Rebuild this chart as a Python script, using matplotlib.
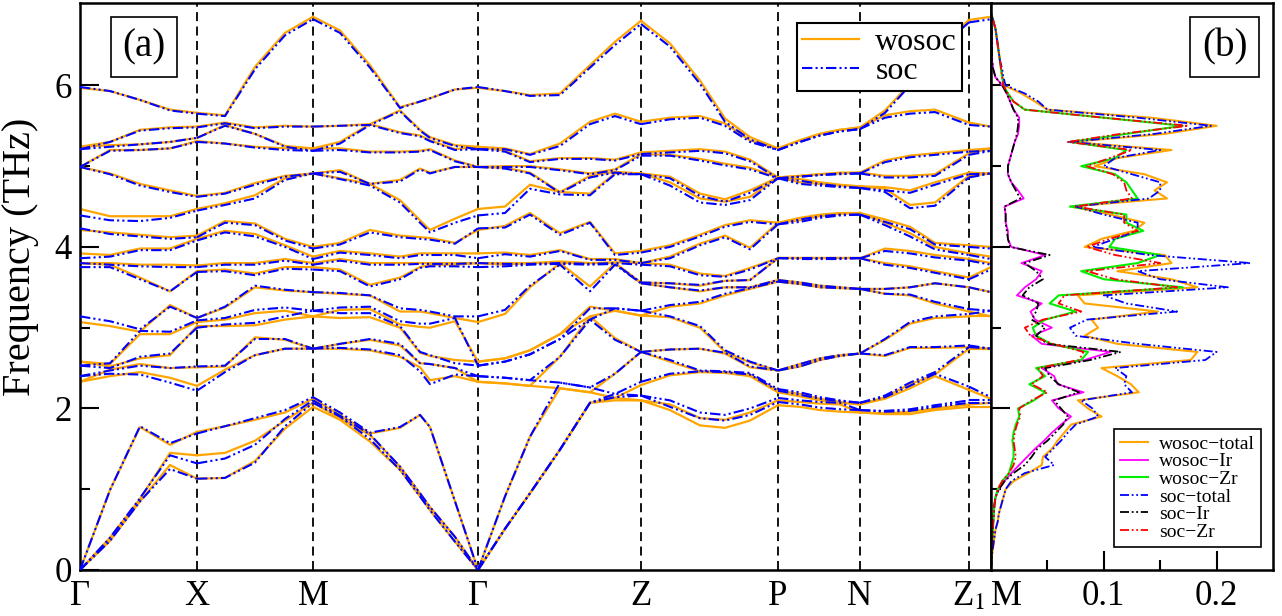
import numpy as np
import matplotlib
matplotlib.use('Agg')
import matplotlib.pyplot as plt

plt.rcParams['font.family'] = ['Liberation Serif', 'DejaVu Serif']
plt.rcParams['mathtext.fontset'] = 'stix'

# ---------------- band structure data (THz) ----------------
k_sym = [0, 117, 233, 398, 561, 698, 780, 889, 911]
k_lab = ['Γ', 'X', 'M', 'Γ', 'Z', 'P', 'N', 'Z$_1$', 'M']

k_GX = [0, 30, 60, 90, 117]
k_XM = [117, 145, 175, 205, 233]
k_MG = [233, 260, 290, 320, 340, 350, 375, 398]
k_GZ = [398, 425, 450, 480, 510, 535, 561]
k_ZP = [561, 590, 620, 645, 670, 698]
k_PN = [698, 720, 740, 760, 780]
k_NZ1 = [780, 805, 830, 855, 889]
k_Z1M = [889, 911]

# without SOC, one row per k-point (frequencies of all branches)
wosoc_GX = [
    [0, 0, 0, 2.33, 2.33, 2.58, 2.58, 3.07, 3.80, 3.80, 3.92, 4.21, 4.47, 4.99, 4.99, 5.24, 5.24, 5.97],
    [0.36, 0.40, 0.99, 2.40, 2.48, 2.52, 2.55, 3.02, 3.78, 3.80, 3.90, 4.18, 4.38, 4.91, 5.20, 5.26, 5.30, 5.93],
    [0.85, 0.88, 1.77, 2.45, 2.55, 2.62, 2.92, 2.95, 3.62, 3.78, 3.98, 4.15, 4.38, 4.78, 5.20, 5.27, 5.45, 5.82],
    [1.30, 1.45, 1.55, 2.38, 2.50, 2.66, 2.92, 3.28, 3.45, 3.78, 3.98, 4.12, 4.38, 4.70, 5.22, 5.30, 5.48, 5.70],
    [1.13, 1.42, 1.71, 2.28, 2.51, 3.02, 3.07, 3.12, 3.70, 3.77, 4.10, 4.14, 4.47, 4.63, 5.31, 5.35, 5.49, 5.66],
]
wosoc_XM = [
    [1.13, 1.42, 1.71, 2.28, 2.51, 3.02, 3.07, 3.12, 3.70, 3.77, 4.10, 4.14, 4.47, 4.63, 5.31, 5.35, 5.49, 5.66],
    [1.14, 1.45, 1.78, 2.48, 2.52, 3.02, 3.10, 3.25, 3.72, 3.80, 4.20, 4.32, 4.54, 4.67, 5.28, 5.51, 5.54, 5.63],
    [1.35, 1.60, 1.86, 2.66, 2.88, 3.03, 3.18, 3.50, 3.67, 3.80, 4.16, 4.29, 4.64, 4.79, 5.24, 5.40, 5.48, 6.23],
    [1.75, 1.85, 1.95, 2.74, 2.85, 3.10, 3.21, 3.46, 3.75, 3.85, 4.02, 4.10, 4.85, 4.88, 5.22, 5.25, 5.50, 6.65],
    [2.02, 2.07, 2.12, 2.74, 2.74, 3.14, 3.14, 3.44, 3.75, 3.80, 3.88, 4.00, 4.91, 4.91, 5.22, 5.22, 5.49, 6.85],
]
wosoc_MG = [
    [2.02, 2.07, 2.12, 2.74, 2.74, 3.14, 3.14, 3.44, 3.75, 3.80, 3.88, 4.00, 4.91, 4.91, 5.22, 5.22, 5.49, 6.85],
    [1.86, 1.88, 1.92, 2.74, 2.80, 3.12, 3.22, 3.42, 3.72, 3.85, 3.95, 4.05, 4.85, 4.95, 5.22, 5.30, 5.50, 6.68],
    [1.59, 1.67, 1.69, 2.72, 2.85, 3.13, 3.23, 3.40, 3.53, 3.80, 3.92, 4.21, 4.78, 4.78, 5.18, 5.52, 5.52, 6.25],
    [1.24, 1.28, 1.76, 2.64, 2.78, 3.00, 3.04, 3.20, 3.62, 3.80, 3.88, 4.14, 4.58, 4.83, 5.18, 5.42, 5.69, 5.73],
    [0.91, 0.95, 1.92, 2.51, 2.56, 2.69, 3.01, 3.20, 3.75, 3.80, 3.92, 4.12, 4.33, 4.97, 5.19, 5.38, 5.45, 5.80],
    [0.74, 0.78, 1.77, 2.35, 2.55, 2.65, 3.00, 3.18, 3.78, 3.80, 3.92, 4.11, 4.21, 4.92, 5.21, 5.32, 5.36, 5.84],
    [0.35, 0.41, 0.85, 2.40, 2.50, 2.60, 3.08, 3.12, 3.78, 3.80, 3.92, 4.05, 4.35, 4.99, 5.07, 5.21, 5.26, 5.95],
    [0, 0, 0, 2.33, 2.33, 2.58, 2.58, 3.07, 3.80, 3.80, 3.92, 4.21, 4.47, 4.99, 4.99, 5.24, 5.24, 5.97],
]
wosoc_GZ = [
    [0, 0, 0, 2.33, 2.33, 2.58, 2.58, 3.07, 3.80, 3.80, 3.92, 4.21, 4.47, 4.99, 4.99, 5.24, 5.24, 5.97],
    [0.51, 0.51, 0.91, 2.31, 2.31, 2.62, 2.62, 3.17, 3.78, 3.80, 3.93, 4.26, 4.50, 4.98, 5.00, 5.19, 5.22, 5.93],
    [0.95, 0.95, 1.65, 2.28, 2.28, 2.72, 2.72, 3.50, 3.80, 3.80, 3.90, 4.42, 4.77, 4.92, 5.00, 5.06, 5.15, 5.88],
    [1.49, 1.49, 2.25, 2.25, 2.64, 2.92, 2.92, 3.80, 3.80, 3.82, 3.96, 4.17, 4.68, 4.68, 4.96, 5.10, 5.28, 5.90],
    [2.07, 2.07, 2.20, 2.20, 3.14, 3.14, 3.26, 3.51, 3.80, 3.80, 3.85, 4.31, 4.66, 4.88, 4.91, 5.10, 5.55, 6.25],
    [2.10, 2.13, 2.13, 2.43, 2.87, 3.21, 3.21, 3.80, 3.80, 3.81, 3.85, 3.92, 4.91, 4.93, 4.96, 5.08, 5.65, 6.54],
    [2.10, 2.10, 2.29, 2.70, 2.70, 3.15, 3.15, 3.55, 3.56, 3.80, 3.80, 3.95, 4.91, 4.91, 5.15, 5.17, 5.55, 6.80],
]
wosoc_ZP = [
    [2.10, 2.10, 2.29, 2.70, 2.70, 3.15, 3.15, 3.55, 3.56, 3.80, 3.80, 3.95, 4.91, 4.91, 5.15, 5.17, 5.55, 6.80],
    [1.98, 2.05, 2.41, 2.58, 2.73, 3.13, 3.26, 3.50, 3.55, 3.78, 3.88, 4.02, 4.80, 4.87, 5.14, 5.19, 5.60, 6.52],
    [1.79, 1.88, 2.45, 2.46, 2.74, 3.00, 3.30, 3.45, 3.52, 3.67, 4.04, 4.15, 4.60, 4.66, 5.09, 5.21, 5.62, 6.06],
    [1.76, 1.86, 2.44, 2.45, 2.68, 2.70, 3.40, 3.50, 3.58, 3.64, 4.14, 4.27, 4.56, 4.59, 5.03, 5.18, 5.53, 5.59],
    [1.85, 1.95, 2.40, 2.42, 2.51, 2.57, 3.48, 3.50, 3.59, 3.74, 3.99, 4.33, 4.62, 4.70, 4.98, 5.08, 5.32, 5.36],
    [2.04, 2.10, 2.20, 2.22, 2.47, 2.47, 3.57, 3.59, 3.86, 3.86, 4.30, 4.30, 4.86, 4.86, 4.86, 4.86, 5.22, 5.22],
]
wosoc_PN = [
    [2.04, 2.10, 2.20, 2.22, 2.47, 2.47, 3.57, 3.59, 3.86, 3.86, 4.30, 4.30, 4.86, 4.86, 4.86, 4.86, 5.22, 5.22],
    [2.02, 2.08, 2.15, 2.18, 2.52, 2.55, 3.54, 3.56, 3.86, 3.86, 4.33, 4.36, 4.80, 4.84, 4.88, 4.88, 5.32, 5.32],
    [1.98, 2.06, 2.10, 2.12, 2.60, 2.62, 3.50, 3.52, 3.86, 3.86, 4.38, 4.40, 4.78, 4.80, 4.90, 4.90, 5.40, 5.40],
    [1.96, 2.05, 2.07, 2.08, 2.65, 2.66, 3.49, 3.50, 3.86, 3.86, 4.41, 4.42, 4.76, 4.77, 4.91, 4.92, 5.45, 5.45],
    [1.95, 1.95, 2.05, 2.05, 2.68, 2.68, 3.48, 3.48, 3.86, 3.86, 4.42, 4.42, 4.75, 4.75, 4.92, 4.92, 5.48, 5.48],
]
wosoc_NZ1 = [
    [1.95, 1.95, 2.05, 2.05, 2.68, 2.68, 3.48, 3.48, 3.86, 3.86, 4.42, 4.42, 4.75, 4.75, 4.92, 4.92, 5.48, 5.48],
    [1.93, 1.94, 2.12, 2.14, 2.65, 2.85, 3.42, 3.48, 3.80, 3.98, 4.30, 4.34, 4.72, 4.74, 4.88, 5.07, 5.63, 5.69],
    [1.93, 1.96, 2.25, 2.30, 2.75, 3.05, 3.40, 3.50, 3.76, 3.95, 4.17, 4.25, 4.52, 4.70, 4.88, 5.13, 5.68, 6.02],
    [1.98, 2.00, 2.40, 2.42, 2.75, 3.12, 3.30, 3.55, 3.70, 3.90, 4.00, 4.05, 4.55, 4.80, 4.90, 5.16, 5.70, 6.44],
    [2.02, 2.05, 2.23, 2.74, 2.76, 3.14, 3.20, 3.50, 3.62, 3.85, 3.92, 4.02, 4.88, 4.92, 5.16, 5.20, 5.54, 6.81],
]
wosoc_Z1M = [
    [2.02, 2.05, 2.23, 2.74, 2.76, 3.14, 3.20, 3.50, 3.62, 3.85, 3.92, 4.02, 4.88, 4.92, 5.16, 5.20, 5.54, 6.81],
    [2.02, 2.07, 2.12, 2.74, 2.74, 3.14, 3.14, 3.44, 3.75, 3.80, 3.88, 4.00, 4.91, 4.91, 5.22, 5.22, 5.49, 6.85],
]

# with SOC
soc_GX = [
    [0, 0, 0, 2.40, 2.40, 2.53, 2.53, 3.14, 3.75, 3.80, 3.86, 4.23, 4.39, 4.99, 4.99, 5.21, 5.21, 5.98],
    [0.36, 0.40, 0.99, 2.43, 2.47, 2.50, 2.56, 3.08, 3.75, 3.78, 3.88, 4.16, 4.33, 4.90, 5.19, 5.24, 5.30, 5.93],
    [0.85, 0.89, 1.78, 2.42, 2.53, 2.64, 2.96, 2.98, 3.60, 3.76, 3.96, 4.13, 4.32, 4.76, 5.20, 5.27, 5.44, 5.82],
    [1.25, 1.42, 1.57, 2.32, 2.50, 2.68, 2.95, 3.26, 3.45, 3.75, 3.96, 4.10, 4.36, 4.68, 5.22, 5.30, 5.47, 5.69],
    [1.13, 1.32, 1.69, 2.22, 2.52, 3.00, 3.09, 3.12, 3.69, 3.75, 4.08, 4.12, 4.45, 4.62, 5.30, 5.35, 5.48, 5.65],
]
soc_XM = [
    [1.13, 1.32, 1.69, 2.22, 2.52, 3.00, 3.09, 3.12, 3.69, 3.75, 4.08, 4.12, 4.45, 4.62, 5.30, 5.35, 5.48, 5.65],
    [1.14, 1.38, 1.78, 2.45, 2.53, 3.04, 3.12, 3.26, 3.70, 3.78, 4.18, 4.30, 4.52, 4.66, 5.28, 5.50, 5.53, 5.62],
    [1.33, 1.55, 1.88, 2.66, 2.86, 3.06, 3.22, 3.52, 3.65, 3.78, 4.13, 4.27, 4.60, 4.77, 5.23, 5.40, 5.47, 6.20],
    [1.78, 1.87, 1.98, 2.74, 2.86, 3.14, 3.25, 3.47, 3.73, 3.83, 4.00, 4.08, 4.83, 4.87, 5.20, 5.24, 5.49, 6.62],
    [2.07, 2.10, 2.14, 2.74, 2.74, 3.21, 3.21, 3.44, 3.72, 3.78, 3.85, 3.98, 4.91, 4.91, 5.19, 5.19, 5.49, 6.82],
]
soc_MG = [
    [2.07, 2.10, 2.14, 2.74, 2.74, 3.21, 3.21, 3.44, 3.72, 3.78, 3.85, 3.98, 4.91, 4.91, 5.19, 5.19, 5.49, 6.82],
    [1.90, 1.91, 1.95, 2.75, 2.80, 3.18, 3.25, 3.43, 3.70, 3.83, 3.93, 4.03, 4.84, 4.93, 5.20, 5.28, 5.50, 6.65],
    [1.62, 1.68, 1.70, 2.73, 2.86, 3.18, 3.26, 3.40, 3.51, 3.78, 3.90, 4.18, 4.76, 4.78, 5.17, 5.51, 5.51, 6.22],
    [1.24, 1.28, 1.77, 2.66, 2.80, 3.02, 3.08, 3.24, 3.60, 3.78, 3.86, 4.12, 4.55, 4.81, 5.17, 5.41, 5.68, 5.72],
    [0.91, 0.95, 1.92, 2.46, 2.56, 2.70, 3.05, 3.22, 3.74, 3.79, 3.90, 4.10, 4.30, 4.96, 5.18, 5.37, 5.44, 5.80],
    [0.74, 0.78, 1.77, 2.30, 2.55, 2.66, 3.05, 3.20, 3.76, 3.79, 3.90, 4.09, 4.18, 4.91, 5.20, 5.31, 5.35, 5.84],
    [0.35, 0.41, 0.85, 2.42, 2.50, 2.56, 3.12, 3.14, 3.76, 3.79, 3.90, 4.04, 4.30, 4.99, 5.06, 5.20, 5.25, 5.95],
    [0, 0, 0, 2.40, 2.40, 2.53, 2.53, 3.14, 3.75, 3.80, 3.86, 4.23, 4.39, 4.99, 4.99, 5.21, 5.21, 5.98],
]
soc_GZ = [
    [0, 0, 0, 2.40, 2.40, 2.53, 2.53, 3.14, 3.75, 3.80, 3.86, 4.23, 4.39, 4.99, 4.99, 5.21, 5.21, 5.98],
    [0.51, 0.51, 0.91, 2.38, 2.38, 2.58, 2.58, 3.22, 3.76, 3.79, 3.91, 4.24, 4.42, 4.97, 4.99, 5.18, 5.21, 5.93],
    [0.95, 0.95, 1.65, 2.35, 2.35, 2.67, 2.67, 3.52, 3.78, 3.79, 3.88, 4.40, 4.72, 4.91, 4.99, 5.05, 5.14, 5.87],
    [1.49, 1.49, 2.32, 2.32, 2.64, 2.86, 2.86, 3.78, 3.79, 3.80, 3.95, 4.15, 4.65, 4.67, 4.95, 5.09, 5.25, 5.88],
    [2.07, 2.07, 2.26, 2.26, 3.10, 3.10, 3.24, 3.45, 3.78, 3.79, 3.84, 4.30, 4.64, 4.86, 4.90, 5.09, 5.52, 6.22],
    [2.14, 2.18, 2.18, 2.43, 2.85, 3.24, 3.24, 3.78, 3.79, 3.80, 3.84, 3.90, 4.90, 4.92, 4.95, 5.07, 5.62, 6.50],
    [2.16, 2.16, 2.33, 2.70, 2.70, 3.21, 3.21, 3.55, 3.56, 3.78, 3.80, 3.93, 4.90, 4.90, 5.13, 5.15, 5.52, 6.76],
]
soc_ZP = [
    [2.16, 2.16, 2.33, 2.70, 2.70, 3.21, 3.21, 3.55, 3.56, 3.78, 3.80, 3.93, 4.90, 4.90, 5.13, 5.15, 5.52, 6.76],
    [2.02, 2.10, 2.43, 2.60, 2.73, 3.14, 3.28, 3.50, 3.55, 3.76, 3.86, 4.00, 4.76, 4.85, 5.13, 5.17, 5.58, 6.48],
    [1.88, 1.95, 2.46, 2.47, 2.74, 3.02, 3.32, 3.46, 3.53, 3.65, 4.02, 4.13, 4.55, 4.63, 5.07, 5.19, 5.60, 6.02],
    [1.85, 1.92, 2.45, 2.46, 2.69, 2.72, 3.42, 3.50, 3.58, 3.63, 4.12, 4.25, 4.52, 4.56, 5.01, 5.16, 5.50, 5.55],
    [1.92, 2.00, 2.42, 2.44, 2.52, 2.58, 3.49, 3.50, 3.59, 3.72, 3.97, 4.31, 4.58, 4.67, 4.96, 5.06, 5.30, 5.33],
    [2.08, 2.13, 2.22, 2.24, 2.47, 2.47, 3.57, 3.59, 3.86, 3.86, 4.28, 4.28, 4.85, 4.85, 4.85, 4.85, 5.20, 5.20],
]
soc_PN = [
    [2.08, 2.13, 2.22, 2.24, 2.47, 2.47, 3.57, 3.59, 3.86, 3.86, 4.28, 4.28, 4.85, 4.85, 4.85, 4.85, 5.20, 5.20],
    [2.05, 2.10, 2.17, 2.20, 2.52, 2.55, 3.54, 3.56, 3.85, 3.86, 4.31, 4.34, 4.78, 4.82, 4.87, 4.87, 5.30, 5.30],
    [2.01, 2.08, 2.12, 2.14, 2.60, 2.62, 3.50, 3.52, 3.85, 3.86, 4.36, 4.38, 4.76, 4.78, 4.89, 4.89, 5.38, 5.38],
    [1.99, 2.07, 2.09, 2.10, 2.65, 2.66, 3.49, 3.50, 3.85, 3.86, 4.39, 4.40, 4.74, 4.75, 4.90, 4.91, 5.43, 5.43],
    [1.98, 1.98, 2.07, 2.07, 2.68, 2.68, 3.48, 3.48, 3.86, 3.86, 4.40, 4.40, 4.73, 4.73, 4.91, 4.91, 5.46, 5.46],
]
soc_NZ1 = [
    [1.98, 1.98, 2.07, 2.07, 2.68, 2.68, 3.48, 3.48, 3.86, 3.86, 4.40, 4.40, 4.73, 4.73, 4.91, 4.91, 5.46, 5.46],
    [1.96, 1.97, 2.14, 2.16, 2.66, 2.86, 3.42, 3.48, 3.78, 3.95, 4.27, 4.31, 4.68, 4.70, 4.86, 5.05, 5.60, 5.66],
    [1.97, 1.99, 2.28, 2.32, 2.76, 3.07, 3.41, 3.50, 3.74, 3.92, 4.13, 4.22, 4.48, 4.67, 4.86, 5.11, 5.65, 6.00],
    [2.02, 2.04, 2.43, 2.45, 2.76, 3.14, 3.32, 3.55, 3.68, 3.87, 3.97, 4.03, 4.51, 4.77, 4.88, 5.14, 5.67, 6.42],
    [2.07, 2.10, 2.27, 2.76, 2.78, 3.17, 3.23, 3.50, 3.60, 3.83, 3.90, 4.00, 4.86, 4.90, 5.14, 5.18, 5.51, 6.78],
]
soc_Z1M = [
    [2.07, 2.10, 2.27, 2.76, 2.78, 3.17, 3.23, 3.50, 3.60, 3.83, 3.90, 4.00, 4.86, 4.90, 5.14, 5.18, 5.51, 6.78],
    [2.07, 2.10, 2.14, 2.74, 2.74, 3.21, 3.21, 3.44, 3.72, 3.78, 3.85, 3.98, 4.91, 4.91, 5.19, 5.19, 5.49, 6.82],
]

# ---------------- phonon DOS data ----------------
dos_freq = [0.0, 0.1, 0.2, 0.3, 0.4, 0.5, 0.6, 0.7, 0.8, 0.9,
            1.0, 1.1, 1.2, 1.3, 1.4, 1.5, 1.6, 1.7, 1.8, 1.9,
            2.0, 2.1, 2.2, 2.3, 2.4, 2.5, 2.6, 2.7, 2.8, 2.9,
            3.0, 3.1, 3.2, 3.3, 3.4, 3.5, 3.6, 3.7, 3.8, 3.9,
            4.0, 4.1, 4.2, 4.3, 4.4, 4.5, 4.6, 4.7, 4.8, 4.9,
            5.0, 5.1, 5.2, 5.3, 5.4, 5.5, 5.6, 5.7, 5.8, 5.9,
            6.0, 6.1, 6.2, 6.3, 6.4, 6.5, 6.6, 6.7, 6.8, 6.9]
dos_wosoc_total = [0, 0.0005, 0.001, 0.002, 0.003, 0.004, 0.006, 0.007, 0.009, 0.011,
                   0.013, 0.020, 0.033, 0.045, 0.046, 0.054, 0.059, 0.065, 0.071, 0.098,
                   0.086, 0.077, 0.131, 0.124, 0.112, 0.098, 0.177, 0.183, 0.112, 0.083,
                   0.095, 0.089, 0.148, 0.083, 0.077, 0.183, 0.160, 0.112, 0.160, 0.154,
                   0.083, 0.098, 0.127, 0.136, 0.106, 0.071, 0.156, 0.145, 0.156, 0.136,
                   0.092, 0.112, 0.160, 0.071, 0.154, 0.200, 0.142, 0.050, 0.039, 0.027,
                   0.012, 0.010, 0.009, 0.008, 0.007, 0.006, 0.005, 0.004, 0.002, 0.0]
dos_wosoc_Ir = [0, 0.0003, 0.0006, 0.001, 0.0013, 0.0017, 0.002, 0.0025, 0.003, 0.004,
                0.007, 0.012, 0.018, 0.025, 0.032, 0.039, 0.047, 0.054, 0.062, 0.071,
                0.060, 0.054, 0.082, 0.059, 0.056, 0.045, 0.083, 0.106, 0.045, 0.036,
                0.054, 0.039, 0.035, 0.045, 0.023, 0.030, 0.040, 0.045, 0.027, 0.048,
                0.018, 0.015, 0.015, 0.013, 0.013, 0.012, 0.029, 0.024, 0.018, 0.015,
                0.015, 0.017, 0.019, 0.021, 0.024, 0.025, 0.025, 0.020, 0.017, 0.014,
                0.010, 0.004, 0.002, 0.001, 0.001, 0.001, 0.001, 0.0005, 0.0003, 0.0]
dos_wosoc_Zr = [0, 0.0003, 0.0006, 0.001, 0.0013, 0.0017, 0.002, 0.0025, 0.003, 0.004,
                0.006, 0.010, 0.016, 0.018, 0.020, 0.020, 0.019, 0.020, 0.022, 0.025,
                0.024, 0.038, 0.048, 0.034, 0.048, 0.040, 0.080, 0.086, 0.053, 0.040,
                0.037, 0.048, 0.075, 0.052, 0.060, 0.170, 0.100, 0.080, 0.130, 0.150,
                0.105, 0.110, 0.135, 0.120, 0.120, 0.070, 0.130, 0.125, 0.120, 0.110,
                0.080, 0.110, 0.120, 0.070, 0.120, 0.170, 0.100, 0.030, 0.020, 0.015,
                0.011, 0.010, 0.009, 0.008, 0.007, 0.006, 0.005, 0.004, 0.002, 0.0]
dos_soc_total = [0, 0.0005, 0.001, 0.002, 0.003, 0.004, 0.006, 0.007, 0.009, 0.011,
                 0.013, 0.018, 0.030, 0.056, 0.048, 0.055, 0.062, 0.068, 0.075, 0.095,
                 0.090, 0.080, 0.125, 0.118, 0.120, 0.110, 0.190, 0.200, 0.130, 0.075,
                 0.070, 0.085, 0.165, 0.120, 0.100, 0.210, 0.150, 0.130, 0.230, 0.140,
                 0.090, 0.110, 0.130, 0.130, 0.100, 0.075, 0.140, 0.150, 0.150, 0.125,
                 0.100, 0.110, 0.150, 0.070, 0.145, 0.195, 0.130, 0.050, 0.042, 0.030,
                 0.013, 0.011, 0.010, 0.008, 0.007, 0.006, 0.005, 0.004, 0.002, 0.0]
dos_soc_Ir = [0, 0.0003, 0.0006, 0.001, 0.0013, 0.0017, 0.002, 0.0025, 0.003, 0.004,
              0.007, 0.012, 0.020, 0.030, 0.036, 0.041, 0.050, 0.057, 0.064, 0.068,
              0.062, 0.056, 0.078, 0.060, 0.052, 0.048, 0.088, 0.115, 0.050, 0.040,
              0.048, 0.036, 0.040, 0.042, 0.028, 0.034, 0.046, 0.040, 0.030, 0.052,
              0.017, 0.015, 0.014, 0.013, 0.013, 0.012, 0.026, 0.022, 0.018, 0.015,
              0.015, 0.017, 0.019, 0.021, 0.023, 0.024, 0.024, 0.020, 0.017, 0.014,
              0.010, 0.004, 0.002, 0.001, 0.001, 0.001, 0.001, 0.0005, 0.0003, 0.0]
dos_soc_Zr = [0, 0.0003, 0.0006, 0.001, 0.0013, 0.0017, 0.002, 0.0025, 0.003, 0.004,
              0.006, 0.010, 0.016, 0.020, 0.022, 0.021, 0.020, 0.021, 0.023, 0.026,
              0.025, 0.036, 0.050, 0.036, 0.046, 0.042, 0.078, 0.082, 0.055, 0.035,
              0.030, 0.046, 0.080, 0.060, 0.065, 0.165, 0.110, 0.085, 0.150, 0.110,
              0.085, 0.105, 0.130, 0.118, 0.118, 0.075, 0.125, 0.120, 0.118, 0.108,
              0.085, 0.105, 0.125, 0.068, 0.115, 0.175, 0.100, 0.030, 0.020, 0.015,
              0.011, 0.010, 0.009, 0.008, 0.007, 0.006, 0.005, 0.004, 0.002, 0.0]

# ---------------- styles ----------------
ORANGE = '#FFA500'
BLUE = '#0000FF'
DDOT = (0, (5, 1.5, 1, 1.5, 1, 1.5))

fig = plt.figure(figsize=(12.82, 6.16), dpi=100)
ax = fig.add_axes([0.0624, 0.0747, 0.7106, 0.9204])
ax2 = fig.add_axes([0.7730, 0.0747, 0.2200, 0.9204])

segments = [
    (k_GX, wosoc_GX, soc_GX), (k_XM, wosoc_XM, soc_XM), (k_MG, wosoc_MG, soc_MG),
    (k_GZ, wosoc_GZ, soc_GZ), (k_ZP, wosoc_ZP, soc_ZP), (k_PN, wosoc_PN, soc_PN),
    (k_NZ1, wosoc_NZ1, soc_NZ1), (k_Z1M, wosoc_Z1M, soc_Z1M),
]
for ks, wo, so in segments:
    wo = np.sort(np.array(wo), axis=1)
    so = np.sort(np.array(so), axis=1)
    for j in range(wo.shape[1]):
        ax.plot(ks, wo[:, j], color=ORANGE, lw=1.6, zorder=2)
        ax.plot(ks, so[:, j], color=BLUE, lw=1.5, ls=DDOT, zorder=3)

for k in k_sym[1:-1]:
    ax.axvline(k, color='k', ls=(0, (5, 3)), lw=1.3, zorder=1)

ax.set_xlim(0, 911)
ax.set_ylim(0, 7.02)
ax.set_xticks(k_sym)
ax.set_xticklabels(k_lab)
ax.get_xticklabels()[-1].set_horizontalalignment('left')
ax.tick_params(axis='x', length=0, labelsize=25, pad=7)
ax.set_yticks([0, 2, 4, 6])
ax.set_yticks([1, 3, 5], minor=True)
ax.tick_params(axis='y', which='major', direction='in', length=14, width=1.5, labelsize=25, right=False, pad=6)
ax.tick_params(axis='y', which='minor', direction='in', length=7, width=1.5, right=False)
ax.set_ylabel('Frequency (THz)', fontsize=29)
ax.yaxis.set_label_coords(-0.045, 0.552)
for s in ax.spines.values():
    s.set_linewidth(1.8)

h1, = ax.plot([], [], color=ORANGE, lw=1.6)
h2, = ax.plot([], [], color=BLUE, lw=1.5, ls=DDOT)
leg = ax.legend([h1, h2], ['wosoc', 'soc'], loc='upper right', bbox_to_anchor=(0.968, 0.965),
                fontsize=23, frameon=True, fancybox=False, framealpha=1, edgecolor='k',
                handlelength=1.8, labelspacing=0.0, borderpad=0.15, handletextpad=0.5,
                borderaxespad=0)
leg.get_frame().set_linewidth(1.5)

ax.text(0.0703, 0.922, '(a)', transform=ax.transAxes, fontsize=28, ha='center', va='center',
        bbox=dict(boxstyle='square,pad=0.3', fc='white', ec='k', lw=1.2))

# ---------------- DOS panel ----------------
ax2.plot(dos_wosoc_total, dos_freq, color=ORANGE, lw=1.5, label='wosoc−total')
ax2.plot(dos_wosoc_Ir, dos_freq, color='#FF00FF', lw=1.3, label='wosoc−Ir')
ax2.plot(dos_wosoc_Zr, dos_freq, color='#00EE00', lw=1.5, label='wosoc−Zr')
ax2.plot(dos_soc_total, dos_freq, color=BLUE, lw=1.3, ls=DDOT, label='soc−total')
ax2.plot(dos_soc_Ir, dos_freq, color='k', lw=1.3, ls=DDOT, label='soc−Ir')
ax2.plot(dos_soc_Zr, dos_freq, color='#FF0000', lw=1.3, ls=DDOT, label='soc−Zr')

ax2.set_xlim(0, 0.25)
ax2.set_ylim(0, 7.02)
ax2.set_xticks([0.1, 0.2])
ax2.set_xticklabels(['0.1', '0.2'])
ax2.set_xticks([0.05, 0.15], minor=True)
ax2.tick_params(axis='x', which='major', direction='in', length=14, width=1.5, labelsize=25, pad=7)
ax2.tick_params(axis='x', which='minor', direction='in', length=7, width=1.5)
ax2.set_yticks([2, 4, 6])
ax2.set_yticks([1, 3, 5], minor=True)
ax2.tick_params(axis='y', which='major', direction='in', length=14, width=1.5, labelleft=False)
ax2.tick_params(axis='y', which='minor', direction='in', length=7, width=1.5)
for s in ax2.spines.values():
    s.set_linewidth(1.8)

leg2 = ax2.legend(loc='lower right', bbox_to_anchor=(0.957, 0.041), fontsize=14, frameon=True,
                  fancybox=False, framealpha=1, edgecolor='k', handlelength=1.4,
                  labelspacing=0.0, borderpad=0.3, handletextpad=0.6, borderaxespad=0)
leg2.get_frame().set_linewidth(1.2)

ax2.text(0.828, 0.922, '(b)', transform=ax2.transAxes, fontsize=28, ha='center', va='center',
         bbox=dict(boxstyle='square,pad=0.3', fc='white', ec='k', lw=1.2))

fig.savefig('out.png', dpi=100, facecolor='white')
